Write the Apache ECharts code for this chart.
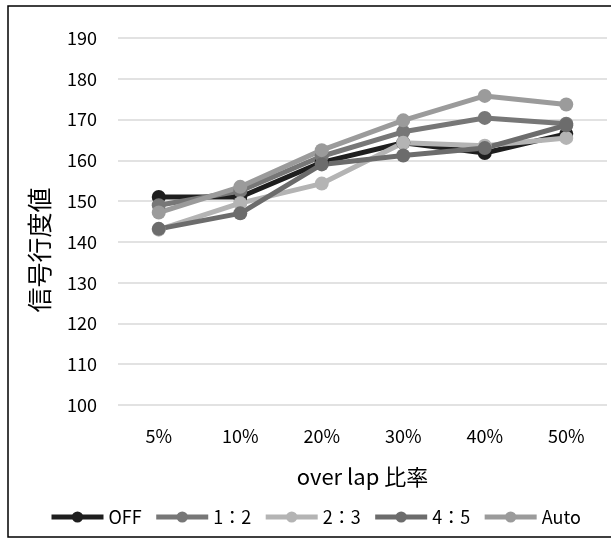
<!DOCTYPE html>
<html>
<head>
<meta charset="utf-8">
<script src="https://cdn.jsdelivr.net/npm/echarts@6/dist/echarts.min.js"></script>
<style>
  html, body { margin: 0; padding: 0; background: #fff; }
  #main { width: 611px; height: 540px; }
</style>
</head>
<body>
<div id="main"></div>
<script>
// x categories (overlap ratio)
var categories = ['5%', '10%', '20%', '30%', '40%', '50%'];
// series values
var seriesNames = ['OFF', '1：2', '2：3', '4：5', 'Auto'];
var offData  = [151, 151, 159.5, 164.3, 161.8, 166.5];
var r12Data  = [149, 152.5, 161, 167, 170.4, 169];
var r23Data  = [143, 149.5, 154.3, 164.3, 163.6, 165.5];
var r45Data  = [143.2, 147, 159, 161.2, 163, 168.6];
var autoData = [147.2, 153.5, 162.5, 169.8, 175.8, 173.7];
var yTicks = { min: 100, max: 190, step: 10 };

var colors = ['#1e1e1e', '#777777', '#b4b4b4', '#6c6c6c', '#9b9b9b'];
var allData = [offData, r12Data, r23Data, r45Data, autoData];

var chart = echarts.init(document.getElementById('main'));

var font = '"Noto Sans CJK JP", "Noto Sans", sans-serif';

var series = seriesNames.map(function (name, i) {
    return {
        name: name,
        type: 'line',
        data: allData[i],
        symbol: 'circle',
        symbolSize: 14,
        lineStyle: { width: 5, color: colors[i] },
        itemStyle: { color: colors[i] },
        emphasis: { disabled: true }
    };
});

var option = {
    backgroundColor: '#fff',
    animation: false,
    textStyle: { fontFamily: font },
    grid: {
        left: 118,
        right: 4,
        top: 38,
        bottom: 135
    },
    legend: {
        data: seriesNames,
        left: 44,
        top: 503,
        width: 566,
        itemWidth: 52,
        itemHeight: 14,
        itemGap: 12,
        lineStyle: { width: 5 },
        textStyle: { fontSize: 18, color: '#000', fontFamily: font }
    },
    xAxis: {
        type: 'category',
        data: categories,
        boundaryGap: true,
        name: 'over lap 比率',
        nameLocation: 'middle',
        nameGap: 61,
        nameTextStyle: { fontSize: 22, color: '#000', fontFamily: font },
        axisLine: { show: false },
        axisTick: { show: false },
        axisLabel: { margin: 22, fontSize: 18, color: '#000', fontFamily: font }
    },
    yAxis: {
        type: 'value',
        min: yTicks.min,
        max: yTicks.max,
        interval: yTicks.step,
        axisLine: { show: false },
        axisTick: { show: false },
        axisLabel: { margin: 21, fontSize: 18, color: '#000', fontFamily: font },
        splitLine: { lineStyle: { color: '#d9d9d9', width: 1.5 } }
    },
    graphic: [
        {
            type: 'rect',
            shape: { x: 8, y: 6, width: 700, height: 531 },
            style: { fill: 'none', stroke: '#000', lineWidth: 1.5 },
            silent: true
        },
        {
            type: 'text',
            x: 39,
            y: 250,
            rotation: Math.PI / 2,
            style: {
                text: '信号行度値',
                font: '25px ' + font,
                fill: '#000',
                align: 'center',
                verticalAlign: 'middle'
            }
        }
    ],
    series: series
};

chart.setOption(option);
</script>
</body>
</html>
